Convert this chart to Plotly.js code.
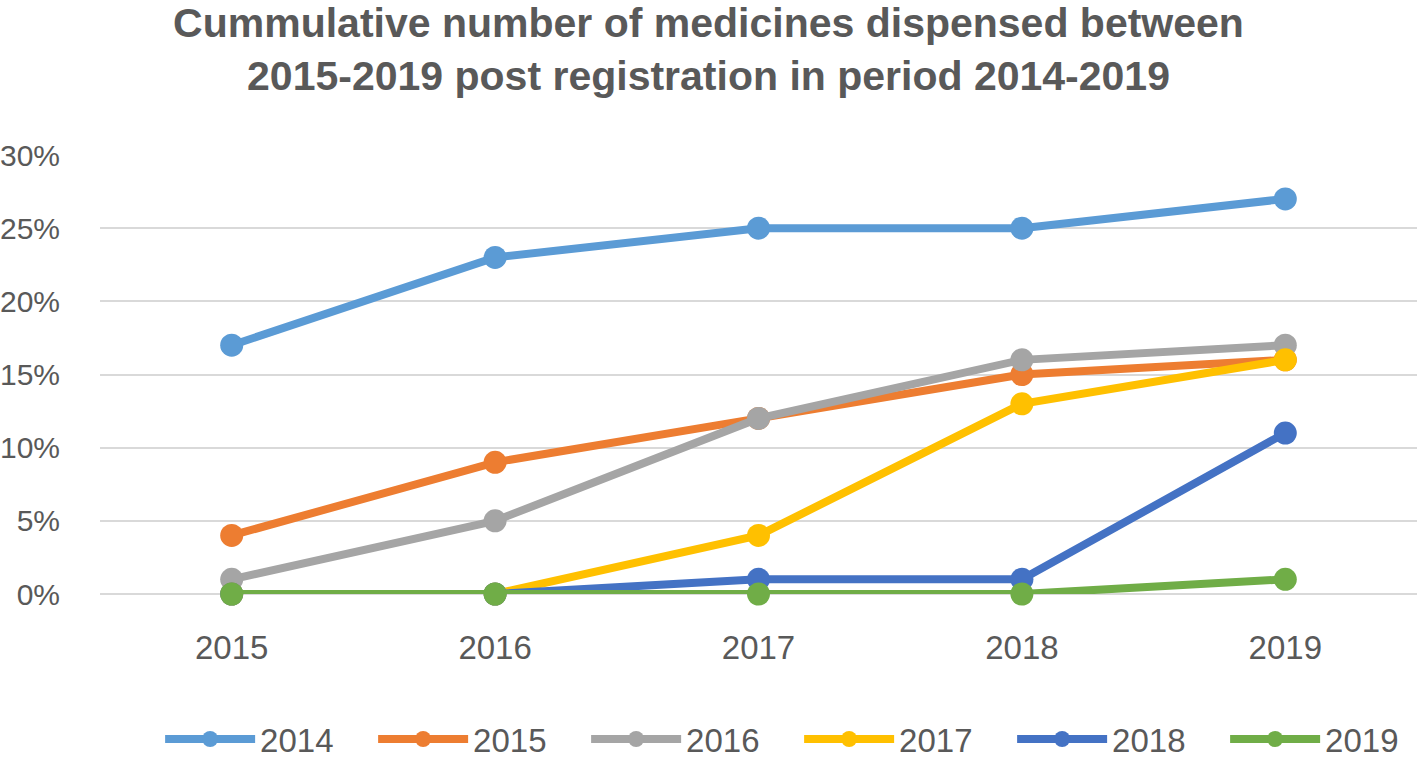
<!DOCTYPE html>
<html>
<head>
<meta charset="utf-8">
<script src="https://cdn.plot.ly/plotly-3.0.1.min.js"></script>
<style>html,body{margin:0;padding:0;background:#fff;}#chart{width:1417px;height:758px;}</style>
</head>
<body>
<div id="chart"></div>
<script>
const categories = ['2015', '2016', '2017', '2018', '2019'];
const seriesNames = ['2014', '2015', '2016', '2017', '2018', '2019'];
const s2014 = [0.17, 0.23, 0.25, 0.25, 0.27];
const s2015 = [0.04, 0.09, 0.12, 0.15, 0.16];
const s2016 = [0.01, 0.05, 0.12, 0.16, 0.17];
const s2017 = [0.00, 0.00, 0.04, 0.13, 0.16];
const s2018 = [0.00, 0.00, 0.01, 0.01, 0.11];
const s2019 = [0.00, 0.00, 0.00, 0.00, 0.01];
const seriesValues = [s2014, s2015, s2016, s2017, s2018, s2019];
const colors = ['#5B9BD5', '#ED7D31', '#A5A5A5', '#FFC000', '#4472C4', '#70AD47'];
const yTicks = [0, 0.05, 0.10, 0.15, 0.20, 0.25, 0.30];
const yTickText = ['0%', '5%', '10%', '15%', '20%', '25%', '30%'];

const FONT = 'Liberation Sans, Arial, sans-serif';
const traces = seriesNames.map((name, i) => ({
  type: 'scatter',
  mode: 'lines+markers',
  name: name,
  x: categories,
  y: seriesValues[i],
  line: {color: colors[i], width: 8},
  marker: {color: colors[i], size: 23},
  cliponaxis: false
}));

const layout = {
  width: 1417,
  height: 758,
  paper_bgcolor: '#ffffff',
  plot_bgcolor: '#ffffff',
  margin: {l: 100, r: 0, t: 155, b: 164},
  title: {
    text: 'Cummulative number of medicines dispensed between<br>2015-2019 post registration in period 2014-2019',
    font: {family: FONT, size: 41, color: '#595959', weight: 'bold'},
    x: 0.5, xref: 'container', xanchor: 'center',
    y: 0.951, yref: 'container', yanchor: 'top'
  },
  xaxis: {
    type: 'category',
    range: [-0.5, 4.5],
    showgrid: false,
    zeroline: false,
    showline: false,
    ticks: 'outside', ticklen: 24, tickcolor: 'rgba(0,0,0,0)',
    tickfont: {family: FONT, size: 33, color: '#595959'}
  },
  yaxis: {
    range: [0, 0.30],
    tickvals: yTicks,
    ticktext: yTickText,
    showgrid: true, gridcolor: '#D9D9D9', gridwidth: 2,
    zeroline: true, zerolinecolor: '#D9D9D9', zerolinewidth: 2,
    showline: false,
    ticks: 'outside', ticklen: 33, tickcolor: 'rgba(0,0,0,0)',
    tickfont: {family: FONT, size: 30, color: '#595959'}
  },
  showlegend: true,
  legend: {
    orientation: 'h',
    xref: 'container', yref: 'container',
    x: 0.113, xanchor: 'left',
    y: 0.025, yanchor: 'middle',
    itemwidth: 90,
    entrywidth: 108, entrywidthmode: 'pixels',
    font: {family: FONT, size: 33, color: '#595959'},
    traceorder: 'normal'
  }
};

Plotly.newPlot('chart', traces, layout, {displayModeBar: false, staticPlot: true});
</script>
</body>
</html>
